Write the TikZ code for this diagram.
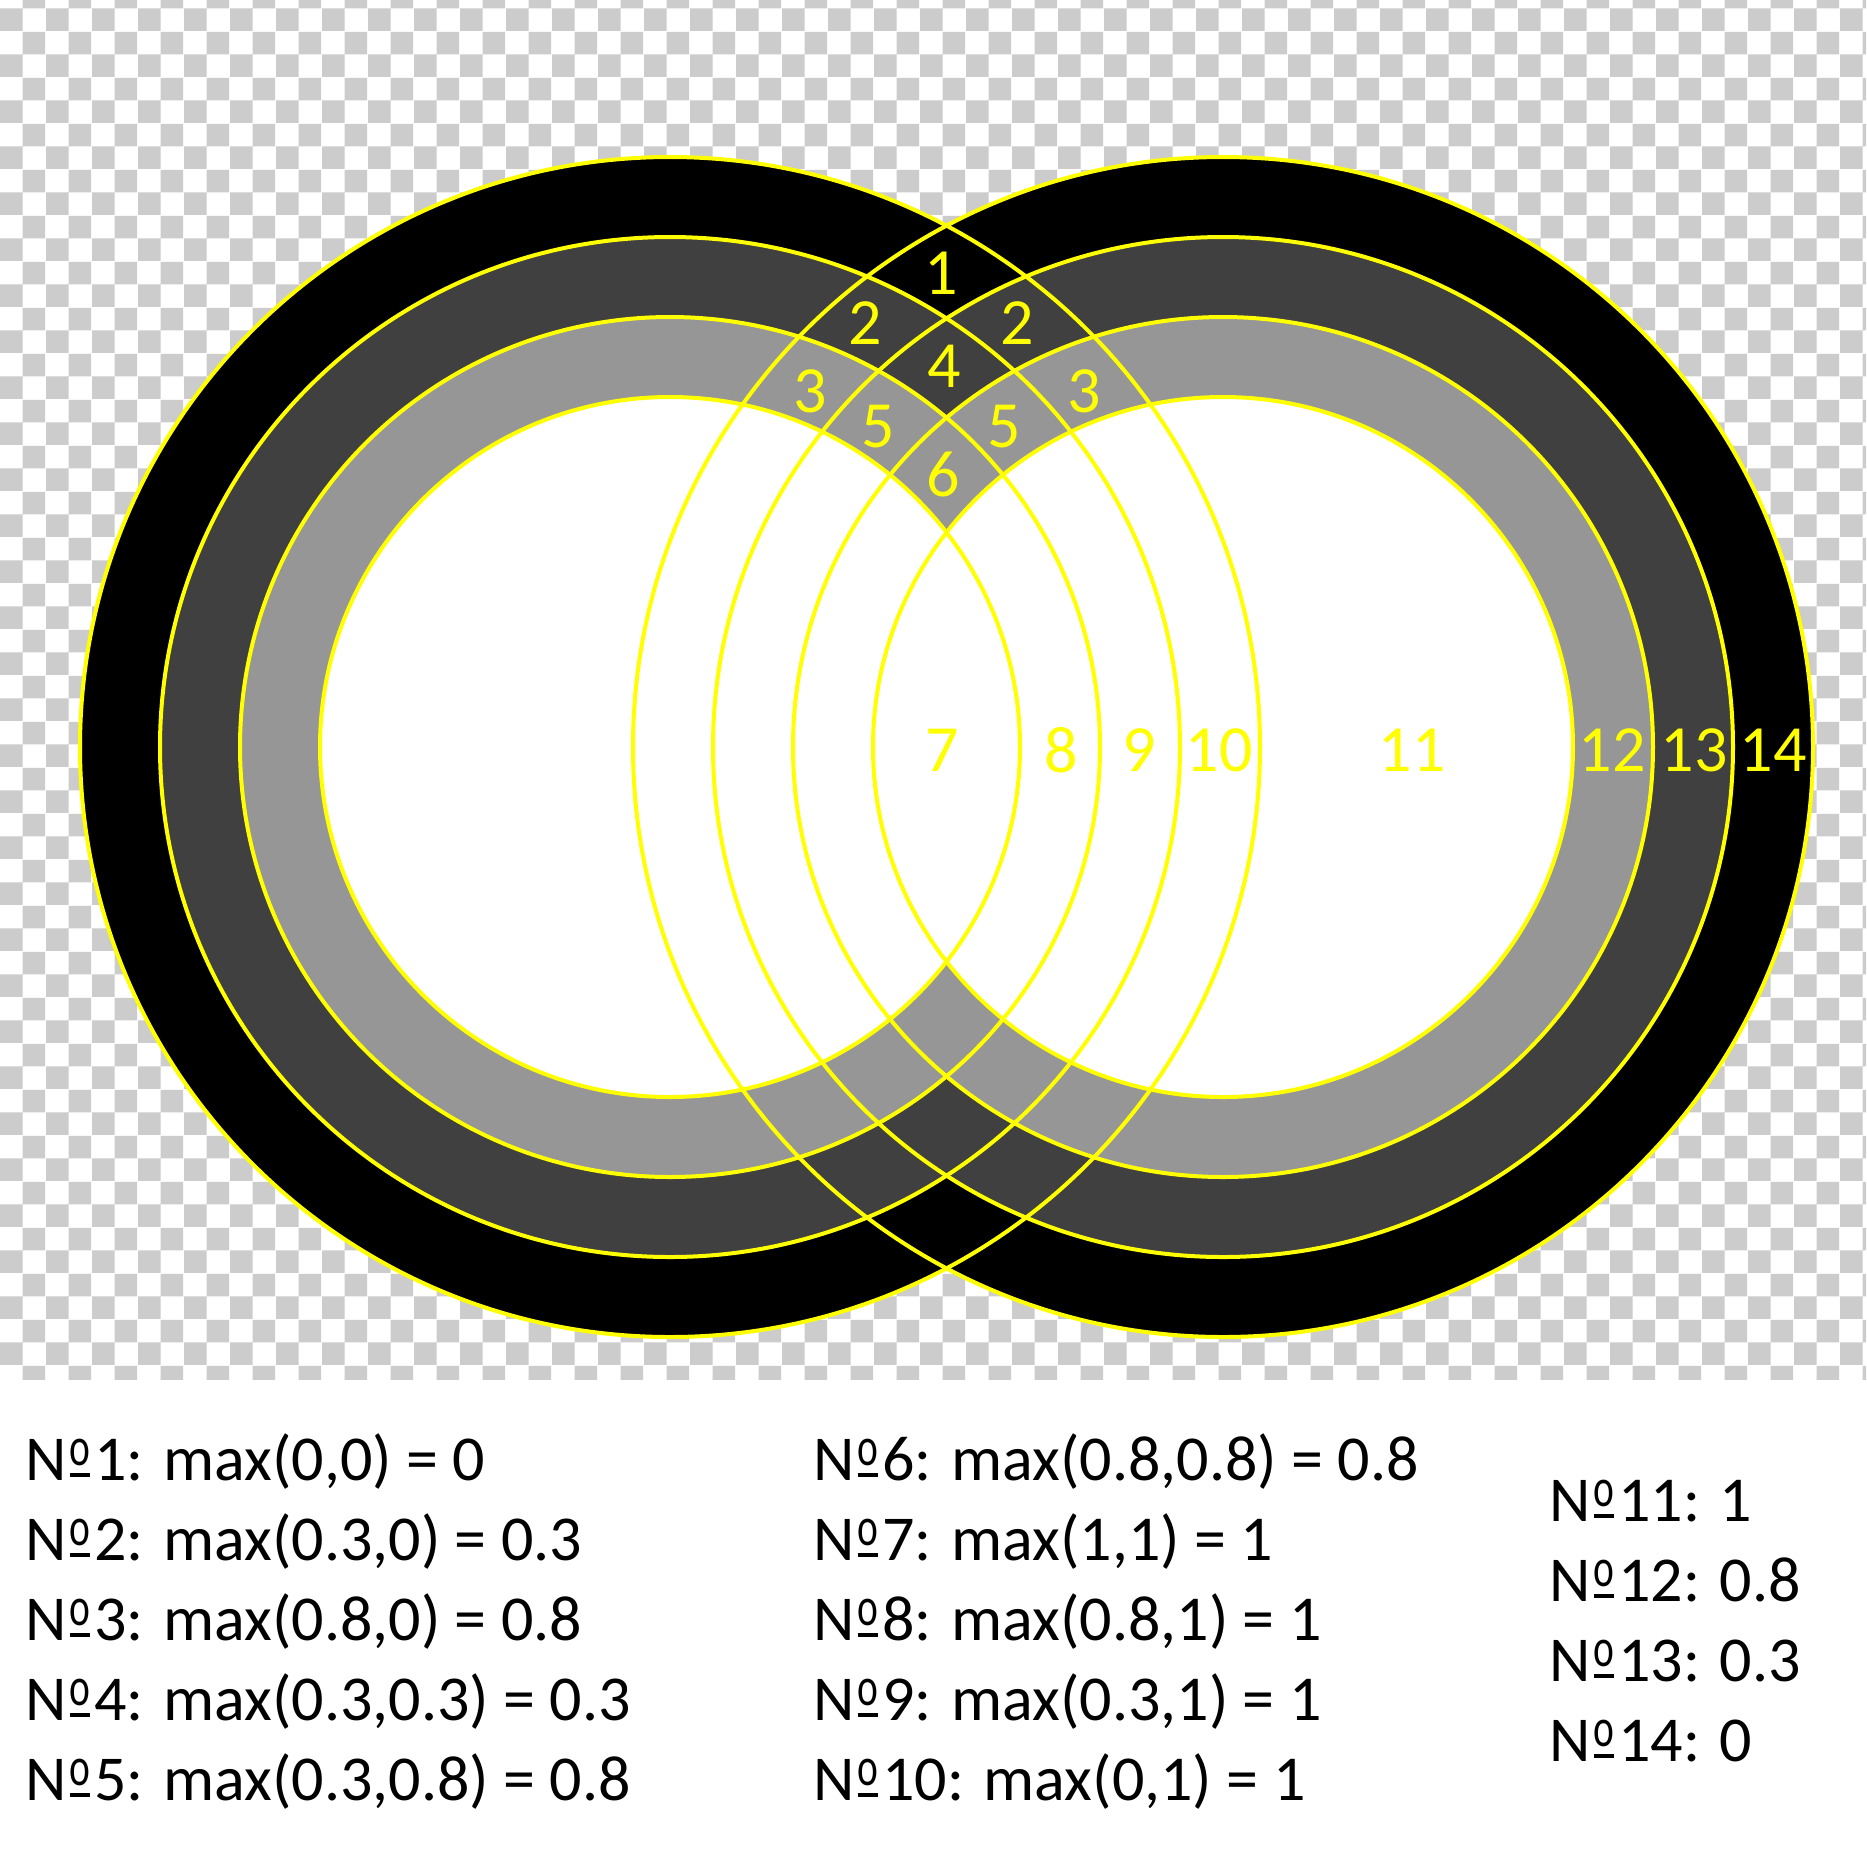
\documentclass[tikz,border=0pt]{standalone}
\usepackage{fontspec}
\usepackage{graphicx}
\setmainfont{Carlito}
\usetikzlibrary{patterns}
\definecolor{dgray}{RGB}{64,64,64}
\definecolor{mgray}{RGB}{150,150,150}
\definecolor{checkgray}{RGB}{204,204,204}
\definecolor{ylw}{RGB}{255,255,0}
\newcommand\numsign{N\kern0.6pt\raisebox{3.6pt}{\resizebox{5.2pt}{6.6pt}{o}}\kern-5.2pt\rule[0.7pt]{5.2pt}{1.0pt}\kern1.0pt}
\begin{document}
\begin{tikzpicture}[x=0.25pt,y=-0.25pt,
  lab/.style={text=ylw,inner sep=0pt,font=\fontsize{16.5}{18}\selectfont},
  txt/.style={anchor=base west,inner sep=0pt,text=black,font=\fontsize{16}{19}\selectfont},
  ring/.style={draw=ylw,line width=1pt}]
\useasboundingbox (0,0) rectangle (1866,1866);
\fill[white] (0,0) rectangle (1866,1866);
\fill[pattern=checkerboard,pattern color=checkgray] (0,0) rectangle (1866,1379);
% layered disks (lighter wins = max)
\coordinate (L) at (670,747);
\coordinate (R) at (1223,747);
\fill[black] (L) circle[radius=590] (R) circle[radius=590];
\fill[dgray] (L) circle[radius=510] (R) circle[radius=510];
\fill[mgray] (L) circle[radius=430] (R) circle[radius=430];
\fill[white] (L) circle[radius=350] (R) circle[radius=350];
% outlines
\foreach \r in {590,510,430,350}{
  \draw[ring] (L) circle[radius=\r];
  \draw[ring] (R) circle[radius=\r];
}
% region labels
\node[lab] (n1) at (941,273) {1};
\node[lab] (n2a) at (865,323) {2};
\node[lab] (n2b) at (1017,323) {2};
\node[lab] (n3a) at (810,391) {3};
\node[lab] (n3b) at (1084,391) {3};
\node[lab] (n4) at (944,366) {4};
\node[lab] (n5a) at (878,427) {5};
\node[lab] (n5b) at (1004,427) {5};
\node[lab] (n6) at (943,474) {6};
\node[lab] (n7) at (942,750) {7};
\node[lab] (n8) at (1061,750) {8};
\node[lab] (n9) at (1139,750) {9};
\node[lab] (n10) at (1219,750) {10};
\node[lab] (n11) at (1412,750) {11};
\node[lab] (n12) at (1612,750) {12};
\node[lab] (n13) at (1694,750) {13};
\node[lab] (n14) at (1773,750) {14};
% legend
\node[txt] (t1) at (25,1480) {\numsign1: max(0,0) = 0};
\node[txt] (t2) at (25,1560) {\numsign2: max(0.3,0) = 0.3};
\node[txt] (t3) at (25,1640) {\numsign3: max(0.8,0) = 0.8};
\node[txt] (t4) at (25,1720) {\numsign4: max(0.3,0.3) = 0.3};
\node[txt] (t5) at (25,1800) {\numsign5: max(0.3,0.8) = 0.8};
\node[txt] (t6) at (813,1480) {\numsign6: max(0.8,0.8) = 0.8};
\node[txt] (t7) at (813,1560) {\numsign7: max(1,1) = 1};
\node[txt] (t8) at (813,1640) {\numsign8: max(0.8,1) = 1};
\node[txt] (t9) at (813,1720) {\numsign9: max(0.3,1) = 1};
\node[txt] (t10) at (813,1800) {\numsign10: max(0,1) = 1};
\node[txt] (t11) at (1549,1521) {\numsign11: 1};
\node[txt] (t12) at (1549,1601) {\numsign12: 0.8};
\node[txt] (t13) at (1549,1681) {\numsign13: 0.3};
\node[txt] (t14) at (1549,1761) {\numsign14: 0};
\end{tikzpicture}
\end{document}
